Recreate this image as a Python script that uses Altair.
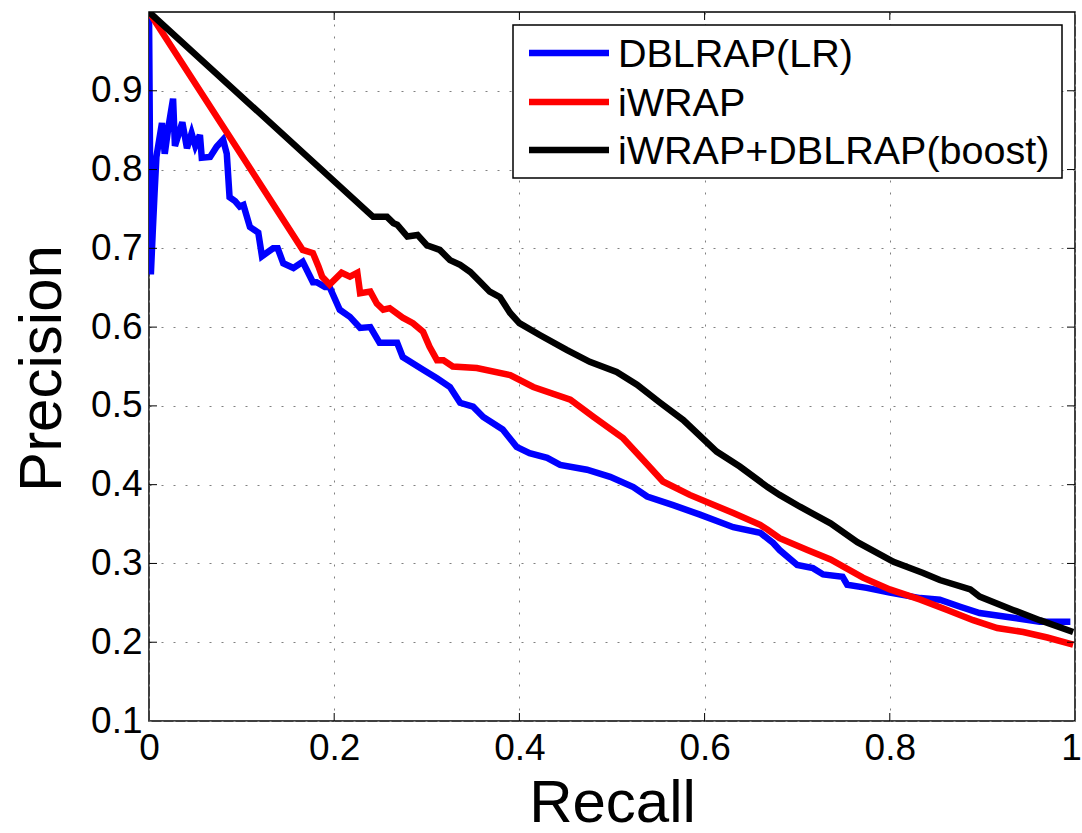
import altair as alt
import pandas as pd

FONT = "Liberation Sans"

# ---------------- data ----------------
series_names = ["DBLRAP(LR)", "iWRAP", "iWRAP+DBLRAP(boost)"]
series_colors = ["#0000ff", "#ff0000", "#000000"]

blue_recall = [0.0, 0.002, 0.004, 0.006, 0.008, 0.014, 0.017, 0.021, 0.026, 0.028,
               0.036, 0.041, 0.046, 0.050, 0.055, 0.057, 0.066, 0.073, 0.080, 0.084,
               0.087, 0.093, 0.098, 0.102, 0.109, 0.118, 0.122, 0.134, 0.139, 0.145,
               0.156, 0.166, 0.177, 0.181, 0.190, 0.195, 0.206, 0.217, 0.228, 0.239,
               0.249, 0.268, 0.274, 0.296, 0.311, 0.325, 0.336, 0.350, 0.361, 0.382,
               0.397, 0.411, 0.430, 0.444, 0.473, 0.498, 0.523, 0.538, 0.566, 0.595,
               0.631, 0.660, 0.674, 0.681, 0.700, 0.717, 0.728, 0.749, 0.754, 0.775,
               0.800, 0.833, 0.854, 0.876, 0.897, 0.933, 0.962, 0.995]
blue_precision = [1.0, 0.667, 0.72, 0.77, 0.816, 0.859, 0.82, 0.854, 0.89, 0.83,
                  0.86, 0.827, 0.846, 0.83, 0.844, 0.815, 0.816, 0.829, 0.838, 0.82,
                  0.765, 0.76, 0.753, 0.755, 0.727, 0.72, 0.69, 0.70, 0.70, 0.681,
                  0.675, 0.683, 0.657, 0.657, 0.651, 0.651, 0.622, 0.613, 0.599, 0.60,
                  0.58, 0.58, 0.562, 0.546, 0.535, 0.524, 0.504, 0.499, 0.486, 0.47,
                  0.448, 0.44, 0.434, 0.425, 0.419, 0.41, 0.397, 0.385, 0.374, 0.362,
                  0.346, 0.339, 0.326, 0.317, 0.298, 0.294, 0.286, 0.283, 0.273, 0.269,
                  0.263, 0.256, 0.254, 0.245, 0.237, 0.231, 0.226, 0.226]

red_recall = [0.0, 0.166, 0.177, 0.183, 0.187, 0.195, 0.208, 0.217, 0.225, 0.228,
              0.239, 0.246, 0.253, 0.260, 0.274, 0.285, 0.296, 0.303, 0.311, 0.318,
              0.328, 0.354, 0.390, 0.415, 0.455, 0.480, 0.512, 0.534, 0.555, 0.584,
              0.631, 0.660, 0.668, 0.681, 0.711, 0.736, 0.771, 0.800, 0.833, 0.862,
              0.890, 0.916, 0.944, 0.970, 0.998]
red_precision = [1.0, 0.698, 0.694, 0.677, 0.664, 0.654, 0.669, 0.664, 0.669, 0.643,
                 0.645, 0.63, 0.622, 0.624, 0.612, 0.605, 0.594, 0.575, 0.558, 0.558,
                 0.55, 0.548, 0.539, 0.524, 0.508, 0.486, 0.459, 0.431, 0.404, 0.387,
                 0.364, 0.349, 0.343, 0.332, 0.317, 0.305, 0.282, 0.267, 0.254, 0.241,
                 0.228, 0.218, 0.213, 0.206, 0.197]

black_recall = [0.0, 0.242, 0.257, 0.264, 0.268, 0.279, 0.290, 0.300, 0.314, 0.325,
                0.336, 0.347, 0.358, 0.368, 0.379, 0.390, 0.400, 0.422, 0.451, 0.476,
                0.505, 0.527, 0.552, 0.577, 0.613, 0.638, 0.668, 0.681, 0.703, 0.736,
                0.765, 0.804, 0.836, 0.854, 0.887, 0.897, 0.933, 0.962, 0.998]
black_precision = [1.0, 0.74, 0.74, 0.732, 0.73, 0.715, 0.717, 0.704, 0.698, 0.685,
                   0.679, 0.67, 0.657, 0.645, 0.638, 0.618, 0.605, 0.59, 0.571, 0.556,
                   0.543, 0.527, 0.504, 0.482, 0.442, 0.423, 0.397, 0.387, 0.372, 0.351,
                   0.327, 0.302, 0.288, 0.279, 0.267, 0.258, 0.241, 0.228, 0.213]

x_ticks = [0, 0.2, 0.4, 0.6, 0.8, 1]
y_ticks = [0.1, 0.2, 0.3, 0.4, 0.5, 0.6, 0.7, 0.8, 0.9]

# ---------------- layout ----------------
W, H = 926, 709

x_scale = alt.Scale(domain=[0, 1], nice=False, zero=False)
y_scale = alt.Scale(domain=[0.1, 1.0], nice=False, zero=False)

common_axis = dict(
    grid=True, gridDash=[2, 10], gridColor="#808080", gridWidth=1,
    domain=False, ticks=False, format="~g", labelFlush=False,
    labelFont=FONT, labelFontSize=37, labelColor="black",
    titleFont=FONT, titleFontSize=60, titleFontWeight="normal", titleColor="black",
    titleBaseline="alphabetic",
)
x_axis = alt.Axis(values=x_ticks, title="Recall", labelPadding=9, titleY=100,
                  labelOffset=alt.expr("datum.value == 1 ? -4 : 0"), **common_axis)
y_axis = alt.Axis(values=y_ticks, title="Precision", labelPadding=7, titleX=-89, titleY=356,
                  titleAngle=270, **common_axis)


def X(field):
    return alt.X(field, type="quantitative", scale=x_scale, axis=x_axis)


def Y(field):
    return alt.Y(field, type="quantitative", scale=y_scale, axis=y_axis)


def line_layer(xs, ys, color):
    assert len(xs) == len(ys)
    df = pd.DataFrame({"recall": xs, "precision": ys, "i": list(range(len(xs)))})
    return alt.Chart(df).mark_line(color=color, strokeWidth=6.5, clip=True).encode(
        x=X("recall"), y=Y("precision"), order=alt.Order("i:Q")
    )


lines = [
    line_layer(blue_recall, blue_precision, series_colors[0]),
    line_layer(red_recall, red_precision, series_colors[1]),
    line_layer(black_recall, black_precision, series_colors[2]),
]

# inner (MATLAB-style) tick marks
inner_x = pd.DataFrame({"recall": x_ticks[1:-1]})
inner_y = pd.DataFrame({"precision": y_ticks[1:]})
tick_len = 8
ticks = [
    alt.Chart(inner_x).mark_rule(color="black", strokeWidth=1).encode(
        x=X("recall"), y=alt.value(H - tick_len), y2=alt.value(H)),
    alt.Chart(inner_x).mark_rule(color="black", strokeWidth=1).encode(
        x=X("recall"), y=alt.value(0), y2=alt.value(tick_len)),
    alt.Chart(inner_y).mark_rule(color="black", strokeWidth=1).encode(
        y=Y("precision"), x=alt.value(0), x2=alt.value(tick_len)),
    alt.Chart(inner_y).mark_rule(color="black", strokeWidth=1).encode(
        y=Y("precision"), x=alt.value(W - tick_len), x2=alt.value(W)),
]

# legend box (drawn by hand, MATLAB style)
box_df = pd.DataFrame({"k": [0]})
legend_layers = [
    alt.Chart(box_df).mark_rect(fill="white", stroke="black", strokeWidth=1.5).encode(
        x=alt.value(364), x2=alt.value(913), y=alt.value(13), y2=alt.value(166))
]
row_y = [41, 90, 138]
for name, color, ry in zip(series_names, series_colors, row_y):
    ddf = pd.DataFrame({"name": [name]})
    legend_layers.append(
        alt.Chart(ddf).mark_rule(color=color, strokeWidth=6.5).encode(
            x=alt.value(380), x2=alt.value(460), y=alt.value(ry))
    )
    legend_layers.append(
        alt.Chart(ddf).mark_text(font=FONT, fontSize=39.5, color="black", align="left",
                                 baseline="alphabetic").encode(
            x=alt.value(469), y=alt.value(ry + 14), text="name:N")
    )

chart = alt.layer(*lines, *ticks, *legend_layers).properties(
    width=W, height=H,
    autosize=alt.AutoSizeParams(type="none"),
    padding={"left": 149, "top": 12, "right": 7, "bottom": 112},
    background="white",
).configure_view(stroke="black", strokeWidth=1.5)

chart.save("out.html", embed_options={"renderer": "svg", "actions": False})
